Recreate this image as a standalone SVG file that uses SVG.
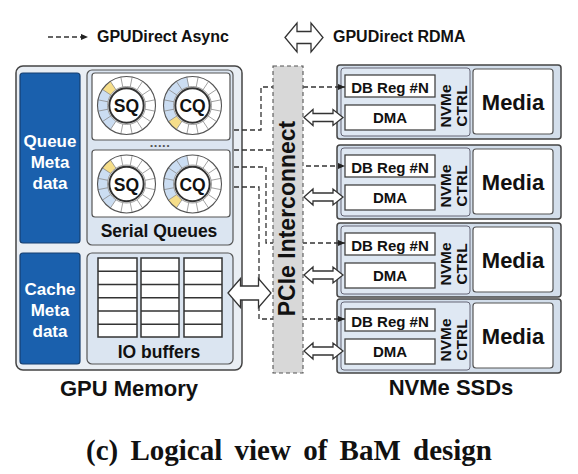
<svg xmlns="http://www.w3.org/2000/svg" xmlns:xlink="http://www.w3.org/1999/xlink" width="578" height="474" viewBox="0 0 578 474">
<style>
text{font-family:"Liberation Sans",Arial,sans-serif;font-weight:bold;fill:#111}
.c{text-anchor:middle}
.w{fill:#fff}
.meta{fill:#1a60ad;stroke:#163f70;stroke-width:1.2}
.panel{fill:#dbe5f1;stroke:#555;stroke-width:1.2}
.wbox{fill:#fff;stroke:#555;stroke-width:1.2}
.reg{fill:#fff;stroke:#444;stroke-width:1.3}
.ssd{fill:#d3deeb;stroke:#444;stroke-width:1.5}
.ctrl{fill:#dfe8f3;stroke:#667;stroke-width:1}
.dash{fill:none;stroke:#333;stroke-width:1.3;stroke-dasharray:5 3}
.hollow{fill:#fff;stroke:#333;stroke-width:1.3;stroke-linejoin:miter}
.blue{fill:none;stroke:#cbddf2;stroke-width:10}
.yel{fill:none;stroke:#f6de8a;stroke-width:10}
.buf{fill:#fff;stroke:#333;stroke-width:1.5}
</style>
<defs>
<marker id="ah" viewBox="0 0 8 8" refX="8" refY="4" markerWidth="7" markerHeight="7" orient="auto" markerUnits="userSpaceOnUse">
<path d="M0,0.5 L8,4 L0,7.5z" fill="#222"/>
</marker>
<g id="grid">
<g stroke="#8a8a8a" stroke-width="0.8">
<line x1="-28.44" y1="-5.66" x2="28.44" y2="5.66"/>
<line x1="-24.11" y1="-16.11" x2="24.11" y2="16.11"/>
<line x1="-16.11" y1="-24.11" x2="16.11" y2="24.11"/>
<line x1="-5.66" y1="-28.44" x2="5.66" y2="28.44"/>
<line x1="5.66" y1="-28.44" x2="-5.66" y2="28.44"/>
<line x1="16.11" y1="-24.11" x2="-16.11" y2="24.11"/>
<line x1="24.11" y1="-16.11" x2="-24.11" y2="16.11"/>
<line x1="28.44" y1="-5.66" x2="-28.44" y2="5.66"/>
</g>
<circle r="29" fill="none" stroke="#555" stroke-width="1.1"/>
<circle r="19" fill="#fff" stroke="#888" stroke-width="0.8"/>
<circle r="17.2" fill="#fff" stroke="#333" stroke-width="2"/>
</g>
<polygon id="dmaArrow" class="hollow" points="304,0 313,-8 313,-4 333,-4 333,-8 343,0 333,8 333,4 313,4 313,8"/>
</defs>

<rect width="578" height="474" fill="#fff"/>

<!-- Legend -->
<g id="legend">
<path class="dash" d="M48,37 H88" marker-end="url(#ah)"/>
<text x="97" y="42" font-size="16">GPUDirect Async</text>
<polygon class="hollow" points="285,37.5 297,23 297,31.5 311,31.5 311,23 323,37.5 311,52 311,43.5 297,43.5 297,52"/>
<text x="333" y="42" font-size="16">GPUDirect RDMA</text>
</g>

<!-- GPU Memory -->
<g id="gpu-memory">
<rect x="16" y="66" width="226" height="304" rx="7" fill="#e9eef4" stroke="#444" stroke-width="1.5"/>
<text class="c" x="129" y="396" font-size="22">GPU Memory</text>
</g>
<g id="queue-meta">
<rect class="meta" x="20" y="73" width="60" height="170" rx="3"/>
<text class="c w" x="50" y="147" font-size="17">Queue</text>
<text class="c w" x="50" y="168" font-size="17">Meta</text>
<text class="c w" x="50" y="189" font-size="17">data</text>
</g>
<g id="cache-meta">
<rect class="meta" x="20" y="253" width="60" height="111" rx="3"/>
<text class="c w" x="50" y="295" font-size="17">Cache</text>
<text class="c w" x="50" y="316" font-size="17">Meta</text>
<text class="c w" x="50" y="337" font-size="17">data</text>
</g>
<g id="serial-queues">
<rect class="panel" x="87" y="70" width="146" height="175" rx="5"/>
<rect class="wbox" x="92" y="73" width="138" height="67" rx="3"/>
<rect class="wbox" x="92" y="150" width="138" height="67" rx="3"/>
<text class="c" x="160" y="147" font-size="13" fill="#555" letter-spacing="0.5" style="fill:#555">.....</text>
<text class="c" x="159" y="237" font-size="17.5">Serial Queues</text>
<!-- ring set 1 -->
<g transform="translate(126.5,105.5)">
<circle r="29" fill="#fff"/>
<circle class="blue" r="24" stroke-dasharray="37.70 200" transform="rotate(123.75)"/>
<circle class="yel" r="24" stroke-dasharray="9.42 200" transform="rotate(213.75)"/>
<use xlink:href="#grid" href="#grid"/>
<text class="c" y="6.5" font-size="17.5">SQ</text>
</g>
<g transform="translate(192.5,105.5)">
<circle r="29" fill="#fff"/>
<circle class="blue" r="24" stroke-dasharray="47.12 200" transform="rotate(146.25)"/>
<circle class="yel" r="24" stroke-dasharray="9.42 200" transform="rotate(123.75)"/>
<use xlink:href="#grid" href="#grid"/>
<text class="c" y="6.5" font-size="17.5">CQ</text>
</g>
<!-- ring set 2 -->
<g transform="translate(126.5,184)">
<circle r="29" fill="#fff"/>
<circle class="blue" r="24" stroke-dasharray="37.70 200" transform="rotate(123.75)"/>
<circle class="yel" r="24" stroke-dasharray="9.42 200" transform="rotate(213.75)"/>
<use xlink:href="#grid" href="#grid"/>
<text class="c" y="6.5" font-size="17.5">SQ</text>
</g>
<g transform="translate(192.5,184)">
<circle r="29" fill="#fff"/>
<circle class="blue" r="24" stroke-dasharray="47.12 200" transform="rotate(146.25)"/>
<circle class="yel" r="24" stroke-dasharray="9.42 200" transform="rotate(123.75)"/>
<use xlink:href="#grid" href="#grid"/>
<text class="c" y="6.5" font-size="17.5">CQ</text>
</g>
</g>
<g id="io-buffers">
<rect class="panel" x="87" y="253" width="146" height="111" rx="5"/>
<g>
<rect class="buf" x="98" y="258" width="39" height="79"/>
<rect class="buf" x="141" y="258" width="38" height="79"/>
<rect class="buf" x="184" y="258" width="38" height="79"/>
<path stroke="#333" stroke-width="1.5" fill="none" d="M98,271.2H137M98,284.5H137M98,297.8H137M98,311H137M98,324.2H137M141,271.2H179M141,284.5H179M141,297.8H179M141,311H179M141,324.2H179M184,271.2H222M184,284.5H222M184,297.8H222M184,311H222M184,324.2H222"/>
</g>
<text class="c" x="159" y="358" font-size="17.5">IO buffers</text>
</g>

<!-- NVMe SSDs -->
<g id="ssd1">
<rect class="ssd" x="337" y="65" width="224" height="74" rx="3"/>
<rect class="ctrl" x="341" y="68" width="129" height="68" rx="3"/>
<rect class="wbox" x="473" y="69" width="80" height="65" rx="3"/>
<rect class="reg" x="345" y="75" width="90" height="22"/>
<rect class="reg" x="345" y="105" width="90" height="25"/>
<text class="c" x="390" y="92.5" font-size="15">DB Reg #N</text>
<text class="c" x="390" y="123" font-size="15">DMA</text>
<text class="c" transform="translate(451,106) rotate(-90)" font-size="15.5">NVMe</text>
<text class="c" transform="translate(467,106) rotate(-90)" font-size="15.5">CTRL</text>
<text class="c" x="513" y="110" font-size="22">Media</text>
</g>
<g id="ssd2">
<rect class="ssd" x="337" y="145" width="224" height="74" rx="3"/>
<rect class="ctrl" x="341" y="148" width="129" height="68" rx="3"/>
<rect class="wbox" x="473" y="149" width="80" height="65" rx="3"/>
<rect class="reg" x="345" y="155" width="90" height="22"/>
<rect class="reg" x="345" y="185" width="90" height="25"/>
<text class="c" x="390" y="172.5" font-size="15">DB Reg #N</text>
<text class="c" x="390" y="203" font-size="15">DMA</text>
<text class="c" transform="translate(451,186) rotate(-90)" font-size="15.5">NVMe</text>
<text class="c" transform="translate(467,186) rotate(-90)" font-size="15.5">CTRL</text>
<text class="c" x="513" y="190" font-size="22">Media</text>
</g>
<g id="ssd3">
<rect class="ssd" x="337" y="223" width="224" height="74" rx="3"/>
<rect class="ctrl" x="341" y="226" width="129" height="68" rx="3"/>
<rect class="wbox" x="473" y="227" width="80" height="65" rx="3"/>
<rect class="reg" x="345" y="233" width="90" height="22"/>
<rect class="reg" x="345" y="263" width="90" height="25"/>
<text class="c" x="390" y="250.5" font-size="15">DB Reg #N</text>
<text class="c" x="390" y="281" font-size="15">DMA</text>
<text class="c" transform="translate(451,264) rotate(-90)" font-size="15.5">NVMe</text>
<text class="c" transform="translate(467,264) rotate(-90)" font-size="15.5">CTRL</text>
<text class="c" x="513" y="268" font-size="22">Media</text>
</g>
<g id="ssd4">
<rect class="ssd" x="337" y="299" width="224" height="74" rx="3"/>
<rect class="ctrl" x="341" y="302" width="129" height="68" rx="3"/>
<rect class="wbox" x="473" y="303" width="80" height="65" rx="3"/>
<rect class="reg" x="345" y="309" width="90" height="22"/>
<rect class="reg" x="345" y="339" width="90" height="25"/>
<text class="c" x="390" y="326.5" font-size="15">DB Reg #N</text>
<text class="c" x="390" y="357" font-size="15">DMA</text>
<text class="c" transform="translate(451,340) rotate(-90)" font-size="15.5">NVMe</text>
<text class="c" transform="translate(467,340) rotate(-90)" font-size="15.5">CTRL</text>
<text class="c" x="513" y="344" font-size="22">Media</text>
</g>
<text class="c" x="451" y="395" font-size="22">NVMe SSDs</text>

<!-- Connectors -->
<g id="connectors">
<path class="dash" d="M234,130 H261 V87 H345" marker-end="url(#ah)"/>
<path class="dash" d="M234,150 H277 V166 H345" marker-end="url(#ah)"/>
<path class="dash" d="M234,167 H266 V243 H345" marker-end="url(#ah)"/>
<path class="dash" d="M234,187 H259 V319 H345" marker-end="url(#ah)"/>
<polygon class="hollow" points="228,293 240.5,278.5 240.5,286 258.5,286 258.5,278.5 271,293 258.5,307.5 258.5,300 240.5,300 240.5,307.5"/>
<use xlink:href="#dmaArrow" href="#dmaArrow" transform="translate(0,117.5)"/>
<use xlink:href="#dmaArrow" href="#dmaArrow" transform="translate(0,197)"/>
<use xlink:href="#dmaArrow" href="#dmaArrow" transform="translate(0,275)"/>
<use xlink:href="#dmaArrow" href="#dmaArrow" transform="translate(0,351)"/>
</g>

<!-- PCIe Interconnect bar -->
<g id="pcie">
<rect x="273" y="66" width="30" height="307" fill="#d8d8d8" stroke="#555" stroke-width="1.1" stroke-dasharray="4 3"/>
<text class="c" transform="translate(294.5,218.5) rotate(-90)" font-size="23">PCIe Interconnect</text>
</g>

<text x="289" y="460" text-anchor="middle" font-size="29" word-spacing="5" style="font-family:'Liberation Serif','Times New Roman',serif">(c) Logical view of BaM design</text>
</svg>
